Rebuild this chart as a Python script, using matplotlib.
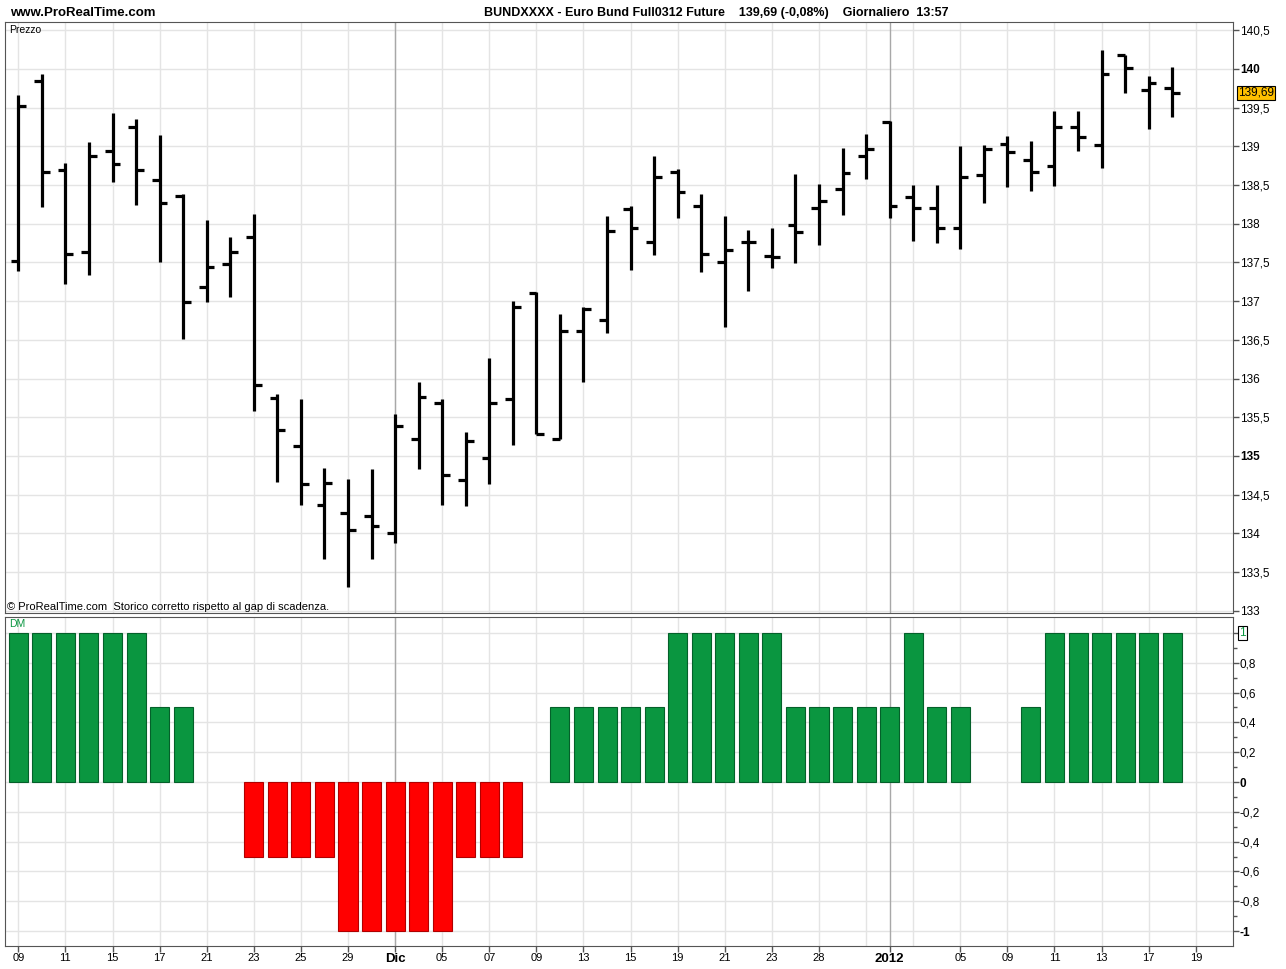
import matplotlib
matplotlib.use("Agg")
import matplotlib.pyplot as plt
from matplotlib.transforms import blended_transform_factory

plt.rcParams['font.family'] = ['Liberation Sans', 'DejaVu Sans']

##DATA
dates = ["09/11", "10/11", "11/11", "14/11", "15/11", "16/11", "17/11", "18/11",
         "21/11", "22/11", "23/11", "24/11", "25/11", "28/11", "29/11", "30/11",
         "01/12", "02/12", "05/12", "06/12", "07/12", "08/12", "09/12", "12/12",
         "13/12", "14/12", "15/12", "16/12", "19/12", "20/12", "21/12", "22/12",
         "23/12", "27/12", "28/12", "29/12", "30/12", "02/01", "03/01", "04/01",
         "05/01", "06/01", "09/01", "10/01", "11/01", "12/01", "13/01", "16/01",
         "17/01", "18/01"]
opens = [137.52, 139.84, 138.69, 137.63, 138.94, 139.25, 138.57, 138.36,
         137.18, 137.48, 137.83, 135.75, 135.13, 134.36, 134.26, 134.22,
         134.00, 135.22, 135.68, 134.69, 134.97, 135.73, 137.11, 135.22,
         136.62, 136.76, 138.19, 137.77, 138.67, 138.23, 137.51, 137.77,
         137.58, 137.98, 138.20, 138.45, 138.87, 139.32, 138.34, 138.20,
         137.94, 138.63, 139.03, 138.83, 138.75, 139.25, 139.02, 140.18,
         139.73, 139.75]
highs = [139.67, 139.94, 138.78, 139.05, 139.43, 139.35, 139.15, 138.38,
         138.05, 137.83, 138.13, 135.80, 135.73, 134.84, 134.70, 134.83,
         135.54, 135.96, 135.73, 135.31, 136.26, 137.00, 137.12, 136.84,
         136.92, 138.10, 138.23, 138.88, 138.71, 138.38, 138.10, 137.92,
         137.95, 138.64, 138.52, 138.98, 139.16, 139.33, 138.50, 138.50,
         139.01, 139.02, 139.14, 139.07, 139.46, 139.46, 140.25, 140.18,
         139.91, 140.02]
lows = [137.39, 138.21, 137.22, 137.34, 138.54, 138.24, 137.50, 136.51,
        136.99, 137.05, 135.58, 134.66, 134.37, 133.67, 133.30, 133.67,
        133.87, 134.83, 134.37, 134.35, 134.64, 135.14, 135.28, 135.22,
        135.95, 136.59, 137.40, 137.59, 138.07, 137.38, 136.67, 137.13,
        137.43, 137.49, 137.73, 138.11, 138.58, 138.07, 137.78, 137.75,
        137.68, 138.27, 138.48, 138.42, 138.49, 138.94, 138.72, 139.69,
        139.23, 139.38]
closes = [139.52, 138.67, 137.61, 138.88, 138.77, 138.69, 138.27, 136.99,
          137.44, 137.64, 135.91, 135.34, 134.64, 134.65, 134.04, 134.10,
          135.39, 135.76, 134.75, 135.19, 135.68, 136.92, 135.28, 136.62,
          136.90, 137.91, 137.94, 138.60, 138.41, 137.61, 137.66, 137.76,
          137.57, 137.89, 138.30, 138.66, 138.96, 138.23, 138.20, 137.94,
          138.60, 138.97, 138.93, 138.67, 139.25, 139.12, 139.93, 140.01,
          139.82, 139.69]
dm = [1, 1, 1, 1, 1, 1, 0.5, 0.5, 0, 0,
      -0.5, -0.5, -0.5, -0.5, -1, -1, -1, -1, -1, -0.5,
      -0.5, -0.5, 0, 0.5, 0.5, 0.5, 0.5, 0.5, 1, 1,
      1, 1, 1, 0.5, 0.5, 0.5, 0.5, 0.5, 1, 0.5,
      0.5, 0, 0, 0.5, 1, 1, 1, 1, 1, 1]

tick_idx = [0, 2, 4, 6, 8, 10, 12, 14, 16, 18, 20, 22, 24, 26, 28, 30, 32, 34,
            37, 40, 42, 44, 46, 48, 50]
tick_labels = ["09", "11", "15", "17", "21", "23", "25", "29", "Dic", "05", "07",
               "09", "13", "15", "19", "21", "23", "28", "2012", "05", "09",
               "11", "13", "17", "19"]
period_breaks = [16, 37]

last_price = "139,69"

##FIGURE SETUP
W, H = 1286, 969
fig = plt.figure(figsize=(W / 100, H / 100), dpi=100)

def pix_axes(x0, y0, x1, y1):
    return fig.add_axes([x0 / W, (H - y1) / H, (x1 - x0) / W, (y1 - y0) / H])

ax = pix_axes(5, 22, 1233, 613)
ax2 = pix_axes(5, 617, 1233, 946)

n = len(dates)
xs = list(range(n))
xlim = (-0.565, 51.58)
grid_c = "#e4e4e4"
break_c = "#a8a8a8"

for a in (ax, ax2):
    a.set_xlim(*xlim)
    for k in range(0, 52, 2):
        a.axvline(k, color=grid_c, lw=1, zorder=0)
    for k in period_breaks:
        a.axvline(k, color=break_c, lw=1, zorder=0.5)
    for s in ("top", "left", "right", "bottom"):
        a.spines[s].set_color("#555555")
    a.yaxis.tick_right()
    a.tick_params(axis="y", which="both", direction="out", length=4, width=1,
                  colors="#555555", labelcolor="black", labelsize=8.5, pad=1)

##PRICE PANEL
ax.set_ylim(132.97, 140.607)
pticks = [133 + 0.5 * k for k in range(16)]
for p in pticks:
    ax.axhline(p, color=grid_c, lw=1, zorder=0)
ax.set_yticks(pticks)
plabels = []
for p in pticks:
    s = ("%.1f" % p).replace(".", ",")
    if s.endswith(",0"):
        s = s[:-2]
    plabels.append(s)
ax.set_yticklabels(plabels)
for lab in ax.get_yticklabels():
    if lab.get_text() in ("140", "135"):
        lab.set_fontweight("bold")
ax.set_xticks([])

tick_w = 0.33
ax.vlines(xs, lows, highs, color="black", lw=2.3, zorder=3)
ax.hlines(opens, [x - tick_w for x in xs], xs, color="black", lw=2.3, zorder=3)
ax.hlines(closes, xs, [x + tick_w for x in xs], color="black", lw=2.3, zorder=3)

trans = blended_transform_factory(ax.transAxes, ax.transData)
ax.text(1.004, closes[-1], last_price, transform=trans, fontsize=8.5, va="center",
        ha="left", color="black",
        bbox=dict(boxstyle="square,pad=0.1", fc="#ffc000", ec="black", lw=0.8))

ax.text(0.003, 0.995, "Prezzo", transform=ax.transAxes, fontsize=7.5, va="top",
        ha="left")
ax.text(0.002, 0.002, "\u00a9 ProRealTime.com  Storico corretto rispetto al gap di scadenza.",
        transform=ax.transAxes, fontsize=8, va="bottom", ha="left")

##INDICATOR PANEL
ax2.set_ylim(-1.10, 1.107)
for v in [-1 + 0.2 * k for k in range(11)]:
    ax2.axhline(v, color=grid_c, lw=1, zorder=0)
dticks = [-1 + 0.2 * k for k in range(11)]
ax2.set_yticks(dticks)
dlabels = []
for v in dticks:
    s = ("%.1f" % v).replace(".", ",")
    if s == "-1,0":
        s = "-1"
    if s in ("0,0", "-0,0"):
        s = "0"
    if s == "1,0":
        s = ""
    dlabels.append(s)
ax2.set_yticklabels(dlabels)
ax2.set_yticks([-1 + 0.1 * k for k in range(21)], minor=True)
ax2.tick_params(axis="y", which="minor", length=3)
for lab in ax2.get_yticklabels():
    if lab.get_text() in ("0", "-1"):
        lab.set_fontweight("bold")

pos_x = [x for x, v in zip(xs, dm) if v > 0]
pos_v = [v for v in dm if v > 0]
neg_x = [x for x, v in zip(xs, dm) if v < 0]
neg_v = [v for v in dm if v < 0]
ax2.bar(pos_x, pos_v, width=0.81, color="#0a9640", edgecolor="#04602a", lw=0.8, zorder=3)
ax2.bar(neg_x, neg_v, width=0.81, color="#ff0000", edgecolor="#b00000", lw=0.8, zorder=3)

trans2 = blended_transform_factory(ax2.transAxes, ax2.transData)
ax2.text(1.005, 1.0, "1", transform=trans2, fontsize=8.5, va="center", ha="left",
         color="#0a9640",
         bbox=dict(boxstyle="square,pad=0.1", fc="white", ec="black", lw=0.8))
ax2.text(0.003, 0.995, "DM", transform=ax2.transAxes, fontsize=7.5, va="top",
         ha="left", color="#0a9640")

ax2.set_xticks(tick_idx)
ax2.set_xticklabels(tick_labels)
ax2.tick_params(axis="x", direction="out", length=4, width=1, colors="#555555",
                labelcolor="black", labelsize=8, pad=1)
for lab in ax2.get_xticklabels():
    if lab.get_text() in ("Dic", "2012"):
        lab.set_fontweight("bold")
        lab.set_fontsize(9.5)

##HEADER
fig.text(10 / W, 1 - 13 / H, "www.ProRealTime.com", fontsize=9.5, fontweight="bold",
         va="center", ha="left")
fig.text(484 / W, 1 - 13 / H,
         "BUNDXXXX - Euro Bund Full0312 Future    139,69 (-0,08%)    Giornaliero  13:57",
         fontsize=9, fontweight="bold", va="center", ha="left")

fig.savefig("out.png", dpi=100)
